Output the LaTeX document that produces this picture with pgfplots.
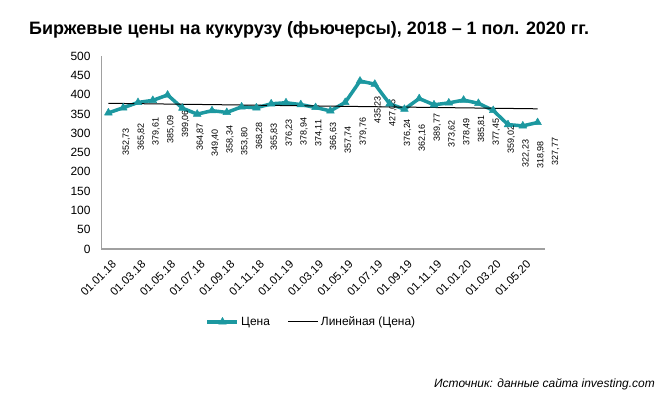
\documentclass[border=0pt]{standalone}
\usepackage{fontspec}
\setmainfont{Liberation Sans}
\usepackage{pgfplots}
\pgfplotsset{compat=1.18}
\definecolor{teal1}{RGB}{28,152,160}
\definecolor{axgray}{RGB}{160,160,160}
\begin{document}
\begin{tikzpicture}
\useasboundingbox (0bp,0bp) rectangle (663bp,396bp);
\node[anchor=base west, inner sep=0pt, font=\fontsize{18}{21}\selectfont\bfseries] at (29bp,361bp) {Биржевые цены на кукурузу (фьючерсы), 2018 – 1 пол. 2020 гг.};
\node[anchor=base east, inner sep=0pt, font=\fontsize{12}{14}\selectfont\itshape] at (655bp,9bp) {Источник: данные сайта investing.com};
\begin{axis}[
  at={(101bp,147bp)}, anchor=south west, scale only axis,
  width=444bp, height=193bp,
  xmin=-0.5, xmax=29.5, ymin=0, ymax=500,
  ytick={0,50,...,500},
  xtick={0,2,...,28},
  xticklabels={01.01.18,01.03.18,01.05.18,01.07.18,01.09.18,01.11.18,01.01.19,01.03.19,01.05.19,01.07.19,01.09.19,01.11.19,01.01.20,01.03.20,01.05.20},
  axis x line*=bottom, axis y line*=left,
  x axis line style={axgray, line width=1.5bp, -},
  y axis line style={axgray, line width=1bp, -},
  major tick length=0pt,
  /pgf/number format/assume math mode=true,
  yticklabel style={font=\fontsize{12}{14}\selectfont, xshift=-7bp},
  xticklabel style={font=\fontsize{11.5}{13}\selectfont, rotate=45, anchor=north east, xshift=-2bp, yshift=-6bp},
  clip=false,
  legend style={at={(0.474,-0.378)}, anchor=center, draw=none, fill=none,
    legend columns=-1, font=\fontsize{12}{14}\selectfont,
    /tikz/every even column/.append style={column sep=16bp},
    legend cell align=left},
  legend image code/.code={\draw[mark repeat=2,mark phase=2,#1] plot coordinates {(0bp,0bp) (15bp,0bp) (30bp,0bp)};},
]
\addplot[teal1, line width=3.5bp, line join=round, mark=triangle*, mark size=4.5bp,
  mark options={fill=teal1, line width=0.5bp},
  point meta=explicit symbolic,
  nodes near coords,
  every node near coord/.append style={font=\fontsize{9}{10}\selectfont, text=black, xshift=18bp, yshift=-15bp, rotate=90, anchor=east, inner sep=0pt},
] table[x=x, y=y, meta=lab] {
x y lab
0 352.73 352,73
1 365.82 365,82
2 379.61 379,61
3 385.09 385,09
4 399.06 399,06
5 364.87 364,87
6 349.40 349,40
7 358.34 358,34
8 353.80 353,80
9 368.28 368,28
10 365.83 365,83
11 376.23 376,23
12 378.94 378,94
13 374.11 374,11
14 366.63 366,63
15 357.74 357,74
16 379.76 379,76
17 435.23 435,23
18 427.05 427,05
19 376.24 376,24
20 362.16 362,16
21 389.77 389,77
22 373.62 373,62
23 378.49 378,49
24 385.81 385,81
25 377.45 377,45
26 359.02 359,02
27 322.23 322,23
28 318.98 318,98
29 327.77 327,77
};
\addlegendentry{Цена}
\addplot[black, line width=1bp] coordinates {(0,377.49) (29,363.19)};
\addlegendentry{Линейная (Цена)}
\end{axis}
\end{tikzpicture}
\end{document}
